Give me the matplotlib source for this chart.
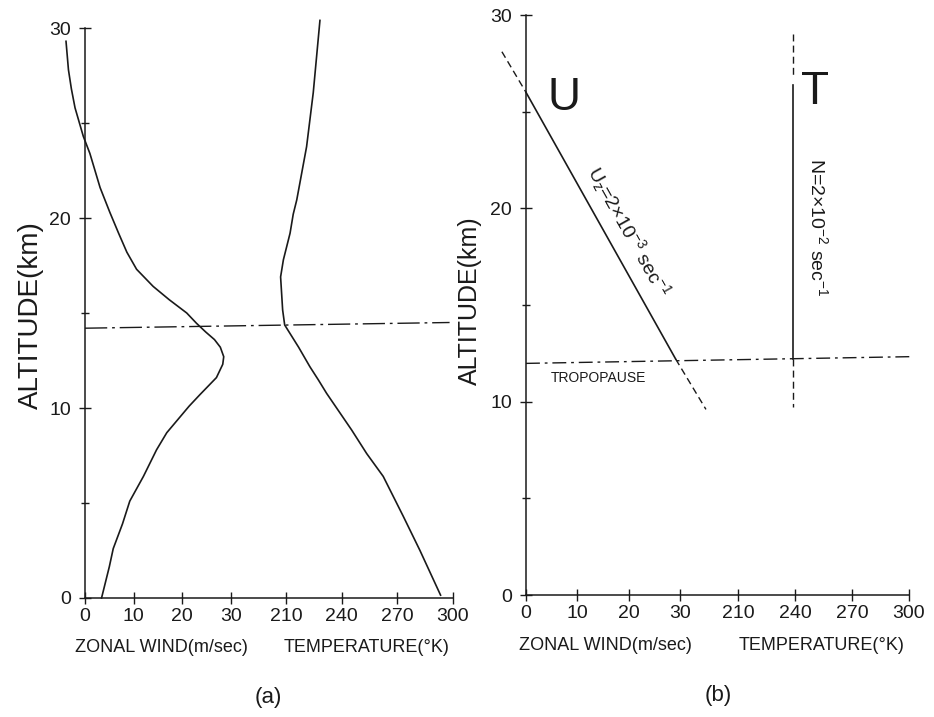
import matplotlib
matplotlib.use('Agg')
import matplotlib.pyplot as plt

plt.rcParams['font.family'] = ['Liberation Sans', 'DejaVu Sans']
plt.rcParams['mathtext.fontset'] = 'custom'
plt.rcParams['mathtext.rm'] = 'Liberation Sans'
plt.rcParams['mathtext.it'] = 'Liberation Sans'

# ---------------- data: panel (a) ----------------
wind_alt_a = [29.3, 27.8, 26.8, 25.8, 24.3, 23.4, 21.6, 20.3, 19.2, 18.2, 17.3, 16.4, 15.7,
              15.0, 14.46, 14.0, 13.6, 13.2, 12.7, 12.3, 11.6, 10.7, 10.1, 8.7, 7.8, 6.4,
              5.1, 3.9, 2.6, 1.65, 0.0]
wind_a = [-3.9, -3.4, -2.8, -2.05, -0.35, 1.0, 3.1, 5.1, 6.9, 8.6, 10.6, 14.0, 17.3,
          20.9, 22.9, 24.8, 26.6, 27.8, 28.5, 28.3, 27.0, 23.6, 21.4, 16.8, 14.7, 12.0,
          9.2, 7.7, 5.8, 5.0, 3.4]
temp_alt_a = [30.4, 26.6, 23.75, 20.95, 20.2, 19.2, 17.8, 16.9, 15.16, 14.37, 13.2, 12.17,
              11.47, 10.77, 8.84, 7.6, 6.4, 4.3, 2.5, 0.15]
temp_a = [228.3, 224.7, 221.1, 215.8, 213.9, 212.2, 208.6, 207.1, 208.2, 209.3, 216.8, 222.9,
          227.5, 231.9, 245.4, 253.5, 262.4, 273.2, 282.2, 293.3]
tropo_wind_a = [0.0, 74.9]
tropo_alt_a = [14.2, 14.5]

# ---------------- data: panel (b) ----------------
u_solid_wind = [0.0, 29.2]
u_solid_alt = [26.0, 12.2]
u_upper_wind = [-4.7, 0.0]
u_upper_alt = [28.1, 26.0]
u_lower_wind = [29.2, 35.1]
u_lower_alt = [12.2, 9.6]
t_const = 239
t_solid_alt = [26.4, 12.2]
t_upper_alt = [29.0, 26.8]
t_lower_alt = [12.2, 9.7]
tropo_wind_b = [0.0, 75.4]
tropo_alt_b = [11.98, 12.33]

wind_ticks = [0, 10, 20, 30]
temp_ticks = [210, 240, 270, 300]
alt_ticks = [0, 10, 20, 30]
alt_minor = [5, 15, 25]

INK = '#1a1a1a'
W, H = 934, 717


def setup(ax, axt, wind_max, temp_min):
    ax.set_xlim(0, wind_max)
    ax.set_ylim(0, 30)
    axt.set_xlim(temp_min, 300)
    axt.xaxis.tick_bottom()
    for s in ['top', 'right']:
        ax.spines[s].set_visible(False)
    for s in axt.spines.values():
        s.set_visible(False)
    for s in ['left', 'bottom']:
        ax.spines[s].set_linewidth(1.1)
        ax.spines[s].set_color(INK)
    ax.set_xticks(wind_ticks)
    axt.set_xticks(temp_ticks)
    ax.set_yticks(alt_ticks)
    ax.set_yticks(alt_minor, minor=True)
    ax.xaxis.set_minor_locator(matplotlib.ticker.NullLocator())
    axt.xaxis.set_minor_locator(matplotlib.ticker.NullLocator())
    for a in (ax, axt):
        a.tick_params(which='major', direction='inout', length=8, width=1.0,
                      labelsize=14, pad=3, colors=INK)
    ax.tick_params(which='minor', direction='inout', length=6, width=1.0, colors=INK)
    ax.tick_params(axis='y', pad=6)
    ax.set_facecolor('none')


fig = plt.figure(figsize=(W / 100, H / 100), dpi=100)

# panel (a)
ax_a = fig.add_axes([85 / W, (H - 598) / H, 368 / W, 570 / H])
ax_at = ax_a.twiny()
setup(ax_a, ax_at, 75.6, 101.7)
ax_a.plot(wind_a, wind_alt_a, color=INK, lw=1.2, clip_on=False,
          solid_joinstyle='round')
ax_at.plot(temp_a, temp_alt_a, color=INK, lw=1.2, clip_on=False,
           solid_joinstyle='round')
ax_a.plot(tropo_wind_a, tropo_alt_a, color=INK, lw=1.0,
          ls=(0, (16, 3.5, 2, 3.5)), clip_on=False)

# panel (b)
ax_b = fig.add_axes([526 / W, (H - 595) / H, 383 / W, 580 / H])
ax_bt = ax_b.twiny()
setup(ax_b, ax_bt, 74.7, 98.4)
ax_b.plot(u_solid_wind, u_solid_alt, color=INK, lw=1.2, clip_on=False)
ax_b.plot(u_upper_wind, u_upper_alt, color=INK, lw=1.0, ls=(0, (5, 3)), clip_on=False)
ax_b.plot(u_lower_wind, u_lower_alt, color=INK, lw=1.0, ls=(0, (5, 3)), clip_on=False)
ax_bt.plot([t_const, t_const], t_solid_alt, color=INK, lw=1.2, clip_on=False)
ax_bt.plot([t_const, t_const], t_upper_alt, color=INK, lw=1.0, ls=(0, (5, 3)), clip_on=False)
ax_bt.plot([t_const, t_const], t_lower_alt, color=INK, lw=1.0, ls=(0, (5, 3)), clip_on=False)
ax_b.plot(tropo_wind_b, tropo_alt_b, color=INK, lw=1.0,
          ls=(0, (10, 3.5, 2, 3.5)), clip_on=False)

ax_b.text(14.2, 11.2, 'TROPOPAUSE', fontsize=10, color=INK, ha='center', va='center')
ax_b.text(7.4, 25.7, 'U', fontsize=33, color=INK, ha='center', va='center')
ax_b.text(56.3, 26.0, 'T', fontsize=33, color=INK, ha='center', va='center')
ax_b.text(20.0, 18.8, r'U$_z$=2×10$^{-3}$ sec$^{-1}$', fontsize=14, color=INK,
          ha='center', va='center', rotation=-60.7, rotation_mode='anchor')
ax_b.text(56.9, 19.0, r'N=2×10$^{-2}$ sec$^{-1}$', fontsize=14, color=INK,
          ha='center', va='center', rotation=-90, rotation_mode='anchor')


def ftext(px, py, s, **kw):
    fig.text(px / W, (H - py) / H, s, ha='center', va='center', color=INK, **kw)


ftext(31, 315, 'ALTITUDE(km)', fontsize=20, rotation=90)
ftext(470, 301, 'ALTITUDE(km)', fontsize=18, rotation=90)
ftext(161.5, 648, 'ZONAL WIND(m/sec)', fontsize=13)
ftext(366.7, 648, 'TEMPERATURE(°K)', fontsize=13)
ftext(605, 645.5, 'ZONAL WIND(m/sec)', fontsize=13)
ftext(821.5, 645.5, 'TEMPERATURE(°K)', fontsize=13)
ftext(268, 697, '(a)', fontsize=16)
ftext(718, 696, '(b)', fontsize=16)

fig.savefig('out.png', dpi=100, facecolor='white')
